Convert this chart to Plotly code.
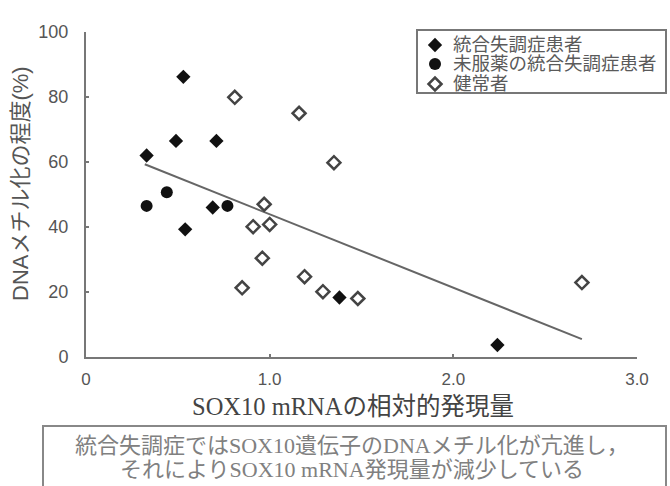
import plotly.graph_objects as go

# SOX10 mRNA relative expression (x) vs. DNA methylation level in % (y)
sz_x = [0.53, 0.49, 0.71, 0.33, 0.69, 0.54, 1.38, 2.24]
sz_y = [86.2, 66.5, 66.5, 62.0, 46.0, 39.3, 18.3, 3.7]

naive_x = [0.33, 0.44, 0.77]
naive_y = [46.5, 50.7, 46.5]

hc_x = [0.81, 1.16, 1.35, 0.97, 0.91, 1.00, 0.96, 0.85, 1.19, 1.29, 1.48, 2.70]
hc_y = [79.9, 75.0, 59.8, 47.0, 40.1, 40.8, 30.4, 21.3, 24.7, 20.1, 18.0, 22.9]

# regression line end points
fit_x = [0.32, 2.70]
fit_y = [59.3, 5.5]

x_ticks = [0, 1, 2, 3]
x_tick_text = ["0", "1.0", "2.0", "3.0"]
y_ticks = [0, 20, 40, 60, 80, 100]

series_names = ["統合失調症患者", "未服薬の統合失調症患者", "健常者"]
x_title = "SOX10 mRNAの相対的発現量"
y_title = "DNAメチル化の程度(%)"
note_lines = [
    "統合失調症ではSOX10遺伝子のDNAメチル化が亢進し，",
    "それによりSOX10 mRNA発現量が減少している",
]

SANS = "Liberation Sans, Noto Sans CJK JP, sans-serif"
SERIF = "Liberation Serif, Noto Sans CJK JP, serif"
AXIS_GREY = "#777777"

# plot area in pixels: left 86, right 637, top 32, bottom 357
L, R, T, B = 86, 637, 32, 357


def px_x(px):
    return (px - L) / (R - L)


def px_y(py):
    return (B - py) / (B - T)


fig = go.Figure()

fig.add_trace(go.Scatter(
    x=fit_x, y=fit_y, mode="lines", showlegend=False,
    line=dict(color="#666666", width=2), hoverinfo="skip",
))

styles = [
    dict(symbol="diamond", size=11, color="#111111"),
    dict(symbol="circle", size=12, color="#111111"),
    dict(symbol="diamond", size=10, color="white",
         line=dict(color="#444444", width=2.5)),
]
for name, xs, ys, mk in zip(series_names,
                            [sz_x, naive_x, hc_x],
                            [sz_y, naive_y, hc_y], styles):
    fig.add_trace(go.Scatter(x=xs, y=ys, mode="markers", name=name,
                             marker=mk, showlegend=False))

# key box: symbols on an overlay axis spanning the plot area, labels as text
key_rows = [45, 64, 84]
fig.add_shape(
    type="rect", xref="paper", yref="paper", layer="below",
    x0=px_x(417), x1=px_x(666), y0=px_y(30), y1=px_y(93),
    line=dict(color=AXIS_GREY, width=2), fillcolor="white",
)
for name, row, mk in zip(series_names, key_rows, styles):
    fig.add_trace(go.Scatter(
        x=[px_x(435)], y=[px_y(row)], mode="markers", marker=mk,
        xaxis="x2", yaxis="y2", showlegend=False, hoverinfo="skip",
        cliponaxis=False,
    ))
    fig.add_annotation(
        text=name, xref="paper", yref="paper", x=px_x(451), y=px_y(row),
        xanchor="left", yanchor="middle", showarrow=False,
        font=dict(family=SERIF, size=18.5, color="#5a5a5a"),
    )

fig.update_xaxes(
    range=[0, 3], tickvals=x_ticks, ticktext=x_tick_text,
    showline=True, linecolor=AXIS_GREY, linewidth=2,
    ticks="inside", ticklen=3, tickcolor=AXIS_GREY, tickwidth=1.5,
    showgrid=False, zeroline=False, ticklabelstandoff=6,
    tickfont=dict(family=SANS, size=17, color="#555555"),
)
fig.update_yaxes(
    range=[0, 100], tickvals=y_ticks,
    showline=True, linecolor=AXIS_GREY, linewidth=2,
    ticks="inside", ticklen=3, tickcolor=AXIS_GREY, tickwidth=1.5,
    showgrid=False, zeroline=False, ticklabelstandoff=12,
    tickfont=dict(family=SANS, size=18, color="#555555"),
)

# axis titles
fig.add_annotation(
    text=x_title, xref="paper", yref="paper", x=px_x(353), y=px_y(407),
    xanchor="center", yanchor="middle", showarrow=False,
    font=dict(family=SERIF, size=24.5, color="#444444"),
)
fig.add_annotation(
    text=y_title, xref="paper", yref="paper", x=px_x(20), y=px_y(184),
    xanchor="center", yanchor="middle", showarrow=False, textangle=-90,
    font=dict(family=SANS, size=22, color="#555555"),
)

# explanatory box under the chart
fig.add_shape(
    type="rect", xref="paper", yref="paper",
    x0=px_x(43), x1=px_x(666), y0=px_y(426), y1=px_y(492),
    line=dict(color="#888888", width=2), fillcolor="rgba(0,0,0,0)",
)
for line_text, row in zip(note_lines, [445, 469]):
    fig.add_annotation(
        text=line_text, xref="paper", yref="paper", x=px_x(352), y=px_y(row),
        xanchor="center", yanchor="middle", showarrow=False,
        font=dict(family=SERIF, size=22, color="#808080"),
    )

fig.update_layout(
    width=670, height=486,
    margin=dict(l=L, r=670 - R, t=T, b=486 - B),
    paper_bgcolor="white", plot_bgcolor="white",
    showlegend=False,
    xaxis2=dict(overlaying="x", range=[0, 1], visible=False),
    yaxis2=dict(overlaying="y", range=[0, 1], visible=False),
)

fig.write_html("out.html")
